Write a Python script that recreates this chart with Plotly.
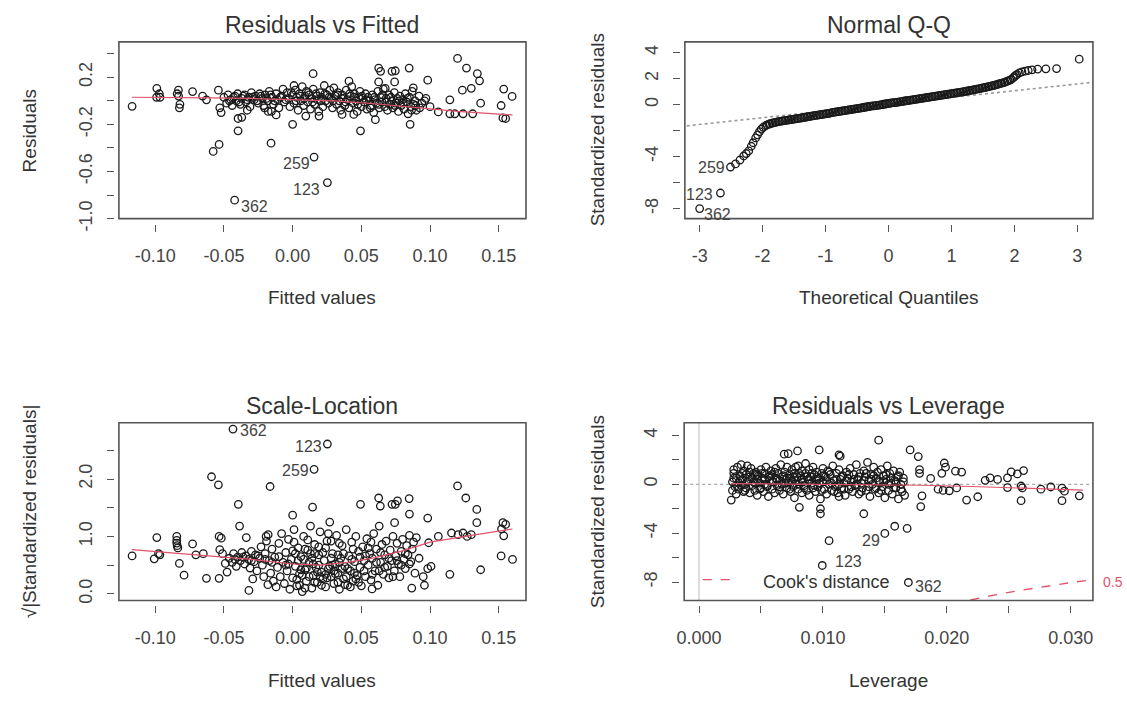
import plotly.graph_objects as go

W, H = 1127, 707
FONT = "Liberation Sans, Arial, sans-serif"
PT = '#1a1a1a'
RED = '#DF536B'

# ---------------- Residuals vs Fitted (fitted, residual) ----------------
rf_points = [
    (-0.1168, -0.047), (-0.0988, 0.106), (-0.099, 0.03), (-0.0965, 0.03), (-0.097, 0.06),
    (-0.0831, 0.09), (-0.083, 0.04), (-0.082, -0.03), (-0.0824, -0.06), (-0.084, 0.06),
    (-0.0728, 0.078), (-0.0655, 0.04), (-0.0627, 0.008), (-0.054, 0.09), (-0.053, -0.06),
    (-0.052, -0.10), (-0.0578, -0.43), (-0.0535, -0.37), (-0.0422, -0.844), (-0.0397, -0.255),
    (-0.0397, -0.15), (-0.037, -0.14), (-0.033, -0.08), (-0.0205, -0.06), (-0.0178, -0.09),
    (-0.0157, -0.36), (-0.0154, -0.09), (-0.012, -0.12), (0.0, -0.2), (0.001, 0.13),
    (0.0149, 0.23), (0.0156, -0.478), (0.0253, -0.694), (0.0096, -0.13), (0.0192, -0.13),
    (0.0494, -0.255), (0.0626, 0.278), (0.064, 0.25), (0.0723, 0.25), (0.0747, 0.255),
    (0.0848, 0.278), (0.0742, 0.16), (0.0878, 0.11), (0.0983, 0.175), (0.12, 0.36),
    (0.1265, 0.278), (0.1344, 0.23), (0.136, 0.17), (0.13, 0.106), (0.1235, 0.09),
    (0.1144, 0.008), (0.1368, -0.02), (0.1536, 0.1), (0.1597, 0.037), (0.1517, -0.04),
    (0.153, -0.145), (0.155, -0.15), (0.1144, -0.11), (0.118, -0.11), (0.124, -0.11),
    (0.131, -0.11), (0.106, -0.094), (0.0855, -0.2), (0.0602, -0.16), (0.0445, -0.116),
    (0.036, -0.116), (0.041, 0.167), (0.0626, 0.16), (0.0674, 0.106),
    (-0.050, 0.03), (-0.048, -0.02), (-0.047, 0.05), (-0.045, 0.01), (-0.044, -0.04),
    (-0.042, 0.04), (-0.041, 0.00), (-0.040, 0.06), (-0.038, -0.03), (-0.037, 0.02),
    (-0.035, 0.05), (-0.034, -0.01), (-0.032, 0.03), (-0.031, -0.05), (-0.030, 0.07),
    (-0.028, 0.01), (-0.027, 0.04), (-0.025, -0.02), (-0.024, 0.06), (-0.022, 0.02),
    (-0.021, -0.04), (-0.020, 0.05), (-0.018, 0.00), (-0.017, 0.08), (-0.015, 0.03),
    (-0.014, -0.03), (-0.012, 0.06), (-0.011, 0.01), (-0.010, -0.06), (-0.008, 0.04),
    (-0.007, 0.10), (-0.006, -0.01), (-0.004, 0.07), (-0.003, 0.02), (-0.002, -0.05),
    (0.000, 0.05), (0.001, -0.02), (0.002, 0.09), (0.003, 0.03), (0.004, -0.08),
    (0.005, 0.06), (0.006, 0.00), (0.007, 0.12), (0.008, -0.04), (0.009, 0.04),
    (0.010, 0.08), (0.011, -0.01), (0.012, 0.05), (0.013, -0.07), (0.014, 0.02),
    (0.015, 0.10), (0.016, -0.03), (0.017, 0.06), (0.018, 0.01), (0.019, -0.09),
    (0.020, 0.07), (0.021, 0.03), (0.022, -0.05), (0.023, 0.13), (0.024, 0.00),
    (0.025, 0.05), (0.026, -0.02), (0.027, 0.09), (0.028, 0.02), (0.029, -0.06),
    (0.030, 0.11), (0.031, 0.04), (0.032, -0.03), (0.033, 0.07), (0.034, 0.00),
    (0.035, -0.08), (0.036, 0.05), (0.037, 0.02), (0.038, -0.04), (0.039, 0.09),
    (0.040, 0.01), (0.041, -0.06), (0.042, 0.04), (0.043, 0.12), (0.044, -0.02),
    (0.045, 0.06), (0.046, 0.00), (0.047, -0.09), (0.048, 0.03), (0.049, 0.08),
    (0.050, -0.05), (0.051, 0.02), (0.052, -0.01), (0.053, 0.06), (0.054, -0.07),
    (0.055, 0.03), (0.056, 0.00), (0.057, -0.04), (0.058, 0.05), (0.059, -0.10),
    (0.060, 0.01), (0.061, -0.02), (0.062, 0.08), (0.063, -0.06), (0.064, 0.03),
    (0.065, -0.01), (0.066, 0.10), (0.067, -0.05), (0.068, 0.02), (0.069, -0.08),
    (0.070, 0.05), (0.071, -0.03), (0.072, 0.00), (0.073, -0.06), (0.074, 0.07),
    (0.075, -0.02), (0.076, 0.02), (0.077, -0.09), (0.078, 0.04), (0.079, -0.04),
    (0.080, 0.01), (0.081, -0.07), (0.082, 0.06), (0.083, -0.01), (0.084, -0.11),
    (0.085, 0.03), (0.086, -0.05), (0.087, 0.08), (0.088, -0.03), (0.089, 0.00),
    (0.090, -0.08), (0.092, 0.04), (0.094, -0.02), (0.097, 0.02), (0.100, -0.05),
    (-0.046, 0.00), (-0.043, 0.03), (-0.039, -0.01), (-0.036, 0.04), (-0.033, 0.01),
    (-0.029, 0.03), (-0.026, 0.00), (-0.023, 0.04), (-0.019, 0.02), (-0.016, 0.05),
    (-0.013, 0.00), (-0.009, 0.03), (-0.005, 0.01), (-0.001, 0.07), (0.0025, 0.00),
    (0.0055, 0.04), (0.0085, 0.02), (0.0115, 0.07), (0.0145, -0.01), (0.0175, 0.04),
    (0.0205, 0.00), (0.0235, 0.06), (0.0265, 0.03), (0.0295, 0.00), (0.0325, 0.05),
    (0.0355, 0.02), (0.0385, -0.01), (0.0415, 0.06), (0.0445, 0.03), (0.0475, -0.03),
    (0.0505, 0.04), (0.0535, 0.01), (0.0565, -0.06), (0.0595, 0.03), (0.0625, -0.03),
    (0.0655, 0.05), (0.0685, -0.01), (0.0715, 0.03), (0.0745, -0.04), (0.0775, 0.00),
    (0.0805, -0.02), (0.0835, 0.02), (0.0865, -0.08), (0.0895, -0.04), (0.0925, -0.06),
    (0.096, 0.00),
]
rf_smooth_x = [-0.117, -0.09, -0.06, -0.03, 0.0, 0.03, 0.06, 0.09, 0.12, 0.16]
rf_smooth_y = [0.03, 0.03, 0.025, 0.02, 0.012, 0.0, -0.025, -0.06, -0.09, -0.12]
rf_labels = [("362", -0.0276, -0.894), ("259", 0.0027, -0.536), ("123", 0.0102, -0.755)]

# ---------------- Normal Q-Q (theoretical, standardized) ----------------
qq_points = [
    (-3.0, -8.0), (-2.67, -6.8), (-2.51, -4.8), (-2.43, -4.56), (-2.36, -4.26),
    (-2.30, -3.95), (-2.26, -3.76), (-2.22, -3.56), (-2.18, -3.20), (-2.15, -2.93),
    (-2.11, -2.56), (-2.08, -2.32), (-2.05, -2.08), (-2.02, -1.88), (-1.99, -1.74),
    (-1.95, -1.62), (-1.90, -1.50), (-1.85, -1.42), (-1.80, -1.36), (-1.75, -1.31),
    (-1.70, -1.27), (-1.65, -1.23), (-1.60, -1.19), (-1.55, -1.15), (-1.50, -1.11),
    (-1.45, -1.07), (-1.40, -1.03), (-1.35, -0.99), (-1.30, -0.95), (-1.25, -0.91),
    (-1.20, -0.87), (-1.15, -0.83), (-1.10, -0.79), (-1.05, -0.75), (-1.00, -0.71),
    (-0.95, -0.67), (-0.90, -0.62), (-0.85, -0.58), (-0.80, -0.54), (-0.75, -0.50),
    (-0.70, -0.46), (-0.65, -0.42), (-0.60, -0.38), (-0.55, -0.34), (-0.50, -0.30),
    (-0.45, -0.26), (-0.40, -0.22), (-0.35, -0.18), (-0.30, -0.14), (-0.25, -0.10),
    (-0.20, -0.07), (-0.15, -0.03), (-0.10, 0.01), (-0.05, 0.05), (0.00, 0.09),
    (0.05, 0.13), (0.10, 0.16), (0.15, 0.20), (0.20, 0.24), (0.25, 0.28),
    (0.30, 0.31), (0.35, 0.35), (0.40, 0.39), (0.45, 0.43), (0.50, 0.47),
    (0.55, 0.50), (0.60, 0.54), (0.65, 0.58), (0.70, 0.62), (0.75, 0.65),
    (0.80, 0.69), (0.85, 0.73), (0.90, 0.77), (0.95, 0.81), (1.00, 0.85),
    (1.05, 0.89), (1.10, 0.93), (1.15, 0.97), (1.20, 1.01), (1.25, 1.05),
    (1.30, 1.10), (1.35, 1.14), (1.40, 1.19), (1.45, 1.24), (1.50, 1.29),
    (1.55, 1.34), (1.60, 1.40), (1.65, 1.46), (1.70, 1.52), (1.75, 1.59),
    (1.80, 1.66), (1.85, 1.74), (1.90, 1.83), (1.95, 1.95), (2.00, 2.15),
    (2.04, 2.32), (2.08, 2.44), (2.12, 2.52), (2.17, 2.58), (2.22, 2.63),
    (2.28, 2.68), (2.37, 2.74), (2.50, 2.76), (2.67, 2.78), (3.03, 3.50),
    (-1.93, -1.56), (-1.88, -1.47), (-1.83, -1.40), (-1.78, -1.34), (-1.73, -1.29),
    (-1.68, -1.25), (-1.63, -1.21), (-1.58, -1.17), (-1.53, -1.13), (-1.48, -1.09),
    (-1.43, -1.05), (-1.38, -1.01), (-1.33, -0.97), (-1.28, -0.93), (-1.23, -0.89),
    (-1.18, -0.85), (-1.13, -0.81), (-1.08, -0.77), (-1.03, -0.73), (-0.98, -0.69),
    (-0.93, -0.65), (-0.88, -0.60), (-0.83, -0.56), (-0.78, -0.52), (-0.73, -0.48),
    (-0.68, -0.44), (-0.63, -0.40), (-0.58, -0.36), (-0.53, -0.32), (-0.48, -0.28),
    (-0.43, -0.24), (-0.38, -0.20), (-0.33, -0.16), (-0.28, -0.12), (-0.23, -0.09),
    (-0.18, -0.05), (-0.13, -0.01), (-0.08, 0.03), (-0.03, 0.07), (0.03, 0.11),
    (0.08, 0.15), (0.13, 0.18), (0.18, 0.22), (0.23, 0.26), (0.28, 0.30),
    (0.33, 0.33), (0.38, 0.37), (0.43, 0.41), (0.48, 0.45), (0.53, 0.49),
    (0.58, 0.52), (0.63, 0.56), (0.68, 0.60), (0.73, 0.64), (0.78, 0.67),
    (0.83, 0.71), (0.88, 0.75), (0.93, 0.79), (0.98, 0.83), (1.03, 0.87),
    (1.08, 0.91), (1.13, 0.95), (1.18, 0.99), (1.23, 1.03), (1.28, 1.08),
    (1.33, 1.12), (1.38, 1.17), (1.43, 1.22), (1.48, 1.27), (1.53, 1.32),
    (1.58, 1.37), (1.63, 1.43), (1.68, 1.49), (1.73, 1.56), (1.78, 1.63),
    (1.83, 1.70), (1.88, 1.79), (1.93, 1.89), (1.98, 2.06), (2.02, 2.25),
]
qq_line_x = [-3.3, 3.3]
qq_line_y = [-1.68, 1.75]
qq_labels = [("259", -2.81, -4.8), ("123", -3.0, -6.94), ("362", -2.71, -8.44)]

# ---------------- Scale-Location (fitted, sqrt|std resid|) ----------------
sl_points = [
    (-0.0434, 2.87), (0.0253, 2.61), (0.0156, 2.17), (-0.059, 2.04), (-0.054, 1.90),
    (-0.0164, 1.87), (-0.0395, 1.56), (-0.0386, 1.18), (-0.0337, 0.98), (0.0, 1.37),
    (-0.1168, 0.66), (-0.1007, 0.61), (-0.0988, 0.98), (-0.0976, 0.70), (-0.0966, 0.68),
    (-0.0843, 1.0), (-0.0843, 0.93), (-0.0843, 0.885), (-0.0840, 0.84), (-0.0835, 0.80),
    (-0.0824, 0.53), (-0.079, 0.325), (-0.0728, 0.87), (-0.0704, 0.68), (-0.065, 0.70),
    (-0.0627, 0.27), (-0.0535, 0.27), (-0.0535, 1.0), (-0.0519, 0.97), (-0.053, 0.77),
    (-0.051, 0.70), (-0.0477, 0.38), (-0.049, 0.53), (-0.0318, 0.06), (-0.029, 0.26),
    (-0.0193, 1.0), (-0.0178, 1.03), (0.0145, 1.51), (0.0494, 1.56), (0.0626, 1.67),
    (0.0638, 1.53), (0.0723, 1.56), (0.0747, 1.56), (0.0763, 1.62), (0.0848, 1.66),
    (0.085, 1.39), (0.0742, 1.24), (0.0983, 1.32), (0.12, 1.88), (0.126, 1.67),
    (0.134, 1.47), (0.134, 1.24), (0.153, 1.24), (0.155, 1.21), (0.152, 1.13),
    (0.1536, 1.01), (0.1517, 0.66), (0.160, 0.60), (0.1368, 0.42), (0.1144, 0.34),
    (0.0983, 0.44), (0.1007, 0.48), (0.0959, 0.15), (0.0867, 0.10), (0.106, 1.0),
    (0.099, 0.89), (0.1156, 1.06), (0.1204, 1.03), (0.124, 1.06), (0.130, 1.03),
    (0.127, 1.0), (0.0578, 0.086),
    (-0.046, 0.62), (-0.044, 0.55), (-0.043, 0.70), (-0.041, 0.48), (-0.040, 0.64),
    (-0.038, 0.58), (-0.037, 0.72), (-0.035, 0.52), (-0.034, 0.66), (-0.032, 0.60),
    (-0.031, 0.45), (-0.030, 0.74), (-0.028, 0.56), (-0.027, 0.68), (-0.026, 0.40),
    (-0.024, 0.62), (-0.023, 0.82), (-0.022, 0.50), (-0.021, 0.30), (-0.020, 0.70),
    (-0.019, 0.92), (-0.018, 0.16), (-0.017, 0.58), (-0.016, 0.36), (-0.015, 0.78),
    (-0.014, 0.22), (-0.013, 0.64), (-0.012, 0.12), (-0.011, 0.46), (-0.010, 0.88),
    (-0.009, 0.30), (-0.008, 1.05), (-0.007, 0.55), (-0.006, 0.18), (-0.005, 0.72),
    (-0.004, 0.40), (-0.003, 0.95), (-0.002, 0.08), (-0.001, 0.60), (0.000, 0.28),
    (0.001, 1.12), (0.002, 0.48), (0.003, 0.14), (0.004, 0.80), (0.005, 0.35),
    (0.006, 0.65), (0.007, 0.04), (0.008, 1.00), (0.009, 0.42), (0.010, 0.22),
    (0.011, 0.76), (0.012, 0.55), (0.013, 1.18), (0.014, 0.10), (0.015, 0.32),
    (0.016, 0.86), (0.017, 0.46), (0.018, 0.20), (0.019, 0.68), (0.020, 1.08),
    (0.021, 0.38), (0.022, 0.26), (0.023, 0.58), (0.024, 0.12), (0.025, 0.92),
    (0.026, 0.44), (0.027, 1.25), (0.028, 0.30), (0.029, 0.70), (0.030, 0.18),
    (0.031, 0.52), (0.032, 1.02), (0.033, 0.36), (0.034, 0.08), (0.035, 0.62),
    (0.036, 0.84), (0.037, 0.26), (0.038, 0.48), (0.039, 1.12), (0.040, 0.15),
    (0.041, 0.66), (0.042, 0.40), (0.043, 0.90), (0.044, 0.22), (0.045, 0.56),
    (0.046, 1.00), (0.047, 0.32), (0.048, 0.74), (0.049, 0.46), (0.050, 0.14),
    (0.051, 0.82), (0.052, 0.58), (0.053, 0.30), (0.054, 0.96), (0.055, 0.50),
    (0.056, 0.70), (0.057, 0.24), (0.058, 0.62), (0.059, 1.05), (0.060, 0.40),
    (0.061, 0.78), (0.062, 0.15), (0.063, 1.18), (0.064, 0.55), (0.065, 0.86),
    (0.066, 0.34), (0.067, 0.68), (0.068, 0.92), (0.069, 0.48), (0.070, 0.28),
    (0.071, 0.76), (0.072, 0.58), (0.073, 1.00), (0.074, 0.40), (0.075, 0.66),
    (0.076, 0.88), (0.077, 0.52), (0.078, 0.30), (0.079, 0.74), (0.080, 0.95),
    (0.081, 0.60), (0.082, 0.44), (0.083, 0.84), (0.084, 0.68), (0.085, 1.02),
    (0.086, 0.56), (0.087, 0.78), (0.088, 0.90), (0.089, 0.36), (0.090, 0.98),
    (0.092, 0.62), (0.095, 0.30),
    (0.003, 0.25), (0.006, 0.42), (0.009, 0.10), (0.012, 0.30), (0.015, 0.52),
    (0.018, 0.38), (0.021, 0.15), (0.024, 0.34), (0.027, 0.48), (0.030, 0.40),
    (0.033, 0.20), (0.036, 0.44), (0.039, 0.30), (0.042, 0.12), (0.045, 0.36),
    (0.002, 0.70), (0.011, 0.94), (0.019, 0.82), (0.026, 1.05), (0.034, 0.88),
    (-0.005, 0.50), (-0.010, 0.65), (0.008, 0.60), (0.016, 0.70), (0.028, 0.62),
    (-0.003, 0.52), (0.000, 0.75), (0.004, 0.58), (0.007, 0.32), (0.010, 0.45),
    (0.013, 0.70), (0.016, 0.20), (0.019, 0.50), (0.022, 0.72), (0.025, 0.28),
    (0.028, 0.92), (0.031, 0.35), (0.034, 0.55), (0.037, 0.70), (0.040, 0.44),
    (0.043, 0.60), (0.046, 0.26), (0.049, 0.64), (0.052, 0.40), (0.055, 0.80),
    (0.058, 0.34), (0.061, 0.55), (0.064, 0.72), (0.067, 0.46), (0.070, 0.62),
    (0.073, 0.30), (0.076, 0.58), (0.079, 0.50), (0.082, 0.70), (0.085, 0.52),
    (-0.020, 0.60), (-0.015, 0.55), (-0.025, 0.66), (-0.030, 0.58), (-0.036, 0.64),
    (-0.042, 0.60), (0.001, 0.90), (0.005, 0.15), (0.009, 0.78), (0.014, 0.62),
    (0.020, 0.30), (0.024, 0.80), (0.029, 0.50), (0.033, 0.68), (0.038, 0.16),
    (0.044, 0.78), (0.048, 0.20), (0.053, 0.66), (0.057, 0.90), (0.063, 0.40),
]
sl_smooth_x = [-0.117, -0.09, -0.06, -0.03, 0.0, 0.02, 0.04, 0.06, 0.08, 0.10, 0.13, 0.16]
sl_smooth_y = [0.77, 0.72, 0.66, 0.60, 0.52, 0.50, 0.55, 0.63, 0.75, 0.90, 1.02, 1.13]
sl_labels = [("362", -0.0283, 2.84), ("123", 0.0114, 2.57), ("259", 0.0024, 2.15)]

# ---------------- Residuals vs Leverage (leverage, std resid) ----------------
lv_points = [
    (0.0026, -1.29), (0.00688, 2.46), (0.0072, 2.5), (0.00795, 2.73), (0.0078, 1.4),
    (0.0097, 2.81), (0.0113, 2.41), (0.0114, 2.3), (0.0081, -1.88), (0.0098, -2.41),
    (0.0098, -2.0), (0.0105, -4.61), (0.00995, -6.64), (0.0113, -1.0), (0.0145, 3.61),
    (0.01704, 2.81), (0.0177, 2.27), (0.0133, -2.41), (0.015, -4.02), (0.0158, -3.43),
    (0.0168, -3.61), (0.0169, -8.03), (0.0178, 1.2), (0.0178, 0.9), (0.0187, 0.48),
    (0.018, -0.94), (0.0179, -1.82), (0.0198, 1.74), (0.0199, 1.4), (0.0207, 1.07),
    (0.0212, 1.0), (0.0196, 0.9), (0.0193, -0.4), (0.0197, -0.5), (0.0202, -0.53),
    (0.0208, -0.3), (0.0216, -1.29), (0.0225, -1.02), (0.0231, 0.32), (0.0235, 0.53),
    (0.0241, 0.4), (0.0249, 0.53), (0.0252, 1.01), (0.0257, 0.85), (0.0262, 1.12),
    (0.0249, -0.27), (0.0260, -0.14), (0.0261, -0.3), (0.0260, -1.34), (0.0276, -0.4),
    (0.0284, -0.22), (0.0293, -0.32), (0.0295, -0.56), (0.0293, -1.34), (0.0307, -0.94),
    (0.0027, 0.2), (0.0027, -0.5), (0.0028, 0.9), (0.0028, 1.2), (0.0029, -0.2),
    (0.0030, 0.5), (0.0030, -0.8), (0.0031, 1.4), (0.0032, 0.1), (0.0032, -0.4),
    (0.0033, 0.7), (0.0034, 1.6), (0.0034, -0.1), (0.0035, 0.4), (0.0036, -0.6),
    (0.0036, 1.1), (0.0037, 0.0), (0.0038, 0.8), (0.0038, -0.3), (0.0039, 1.5),
    (0.0040, 0.3), (0.0041, -0.7), (0.0041, 0.6), (0.0042, 1.3), (0.0043, -0.1),
    (0.0044, 0.9), (0.0044, 0.2), (0.0045, -0.5), (0.0046, 1.0), (0.0047, 0.4),
    (0.0047, -0.9), (0.0048, 0.7), (0.0049, 0.1), (0.0050, 1.2), (0.0050, -0.3),
    (0.0051, 0.5), (0.0052, -0.6), (0.0053, 0.9), (0.0053, 0.0), (0.0054, 1.4),
    (0.0055, -0.2), (0.0056, 0.6), (0.0056, -1.0), (0.0057, 0.3), (0.0058, 1.1),
    (0.0059, -0.4), (0.0059, 0.8), (0.0060, 0.2), (0.0061, -0.7), (0.0062, 1.3),
    (0.0062, 0.5), (0.0063, -0.1), (0.0064, 0.9), (0.0065, -0.5), (0.0065, 0.3),
    (0.0066, 1.6), (0.0067, 0.0), (0.0068, 0.7), (0.0068, -0.8), (0.0069, 1.0),
    (0.0070, 0.4), (0.0071, -0.3), (0.0071, 1.4), (0.0072, 0.1), (0.0073, 0.8),
    (0.0074, -0.6), (0.0074, 0.5), (0.0075, 1.2), (0.0076, -0.2), (0.0077, 0.9),
    (0.0077, -1.1), (0.0078, 0.3), (0.0079, 0.6), (0.0080, -0.4), (0.0080, 1.5),
    (0.0081, 0.0), (0.0082, 0.7), (0.0083, -0.7), (0.0083, 1.1), (0.0084, 0.2),
    (0.0085, -0.1), (0.0086, 0.9), (0.0086, 1.7), (0.0087, -0.5), (0.0088, 0.4),
    (0.0089, 1.2), (0.0089, -0.9), (0.0090, 0.6), (0.0091, 0.1), (0.0092, 1.4),
    (0.0092, -0.3), (0.0093, 0.8), (0.0094, -0.6), (0.0095, 0.3), (0.0095, 1.0),
    (0.0096, -0.2), (0.0097, 0.5), (0.0098, -1.2), (0.0099, 0.9), (0.0100, 0.2),
    (0.0100, 1.3), (0.0101, -0.4), (0.0102, 0.6), (0.0103, -0.8), (0.0104, 1.1),
    (0.0105, 0.0), (0.0106, 0.8), (0.0107, -0.5), (0.0108, 1.5), (0.0109, 0.3),
    (0.0110, -0.2), (0.0111, 0.9), (0.0112, -0.7), (0.0113, 1.2), (0.0114, 0.4),
    (0.0115, -0.3), (0.0116, 0.7), (0.0117, 0.1), (0.0118, -0.9), (0.0119, 1.0),
    (0.0120, 0.5), (0.0121, -0.4), (0.0122, 1.3), (0.0123, 0.2), (0.0124, -0.6),
    (0.0125, 0.8), (0.0126, -0.1), (0.0127, 1.6), (0.0128, 0.4), (0.0129, -0.8),
    (0.0130, 0.9), (0.0131, 0.1), (0.0132, -0.3), (0.0133, 1.1), (0.0134, 0.6),
    (0.0135, -0.5), (0.0136, 1.8), (0.0137, 0.3), (0.0138, -1.0), (0.0139, 0.8),
    (0.0140, 0.0), (0.0141, 1.4), (0.0142, -0.4), (0.0143, 0.5), (0.0144, 1.0),
    (0.0145, -0.7), (0.0146, 0.2), (0.0147, 1.2), (0.0148, -0.2), (0.0149, 0.7),
    (0.0150, -1.1), (0.0151, 0.4), (0.0152, 1.5), (0.0153, -0.5), (0.0154, 0.9),
    (0.0155, 0.1), (0.0156, -0.8), (0.0157, 1.1), (0.0158, 0.3), (0.0159, -0.3),
    (0.0160, 0.6), (0.0161, -1.2), (0.0162, 1.0), (0.0163, 0.0), (0.0164, -0.6),
    (0.0165, 0.5), (0.0166, -0.9),
    (0.0028, 0.5), (0.0031, -0.2), (0.0033, 0.3), (0.0035, 0.9), (0.0037, -0.5),
    (0.0039, 0.2), (0.0041, 1.0), (0.0043, 0.5), (0.0045, 0.1), (0.0047, 0.8),
    (0.0049, -0.4), (0.0051, 0.9), (0.0053, 0.4), (0.0055, -0.1), (0.0057, 0.7),
    (0.0059, 0.2), (0.0061, 1.0), (0.0063, 0.4), (0.0065, -0.2), (0.0067, 0.6),
    (0.0069, 0.1), (0.0071, 0.5), (0.0073, -0.4), (0.0075, 0.3), (0.0077, 0.6),
    (0.0079, 0.0), (0.0081, 0.9), (0.0083, 0.4), (0.0085, -0.3), (0.0087, 0.6),
    (0.0089, 0.3), (0.0091, 0.9), (0.0093, -0.1), (0.0095, 0.6), (0.0097, 0.1),
    (0.0099, -0.5), (0.0101, 0.7), (0.0103, 0.3), (0.0105, 1.0), (0.0107, 0.1),
    (0.0109, -0.6), (0.0111, 0.4), (0.0113, 0.0), (0.0115, 0.6), (0.0117, -0.4),
    (0.0119, 0.3), (0.0121, 0.8), (0.0123, -0.2), (0.0125, 0.4), (0.0127, 0.0),
    (0.0129, 0.6), (0.0131, -0.6), (0.0133, 0.3), (0.0135, 0.9), (0.0137, -0.2),
    (0.0139, 0.4), (0.0141, 0.7), (0.0143, -0.3), (0.0145, 0.3), (0.0147, -0.5),
    (0.0149, 0.2), (0.0151, 0.8), (0.0153, 0.0), (0.0155, 0.5), (0.0157, -0.3),
    (0.0159, 0.2), (0.0161, 0.7), (0.0163, -0.4), (0.0165, 0.2),
]
lv_smooth_x = [0.0026, 0.006, 0.010, 0.014, 0.018, 0.022, 0.026, 0.031]
lv_smooth_y = [0.05, 0.02, 0.0, -0.02, -0.08, -0.18, -0.30, -0.48]
cook_x = [0.0205, 0.022, 0.024, 0.026, 0.028, 0.030, 0.0318]
cook_y = [-9.77, -9.43, -9.02, -8.67, -8.33, -8.04, -7.80]
lv_labels = [("123", 0.0121, -6.3), ("29", 0.0139, -4.61), ("362", 0.0185, -8.35)]

# ---------------- layout geometry (pixels) ----------------
BOX = {
    1: (111.7, 521.7, 42.7, 222.7),
    2: (681.7, 1092.7, 42.7, 222.7),
    3: (111.7, 521.7, 430.7, 611.7),
    4: (681.0, 1092.7, 430.7, 611.7),
}
GAP = 5
TICKFONT = dict(family=FONT, size=18, color='#444444')


def xaxis_cfg(box, rng, vals, texts):
    l, r, t, b = box
    return dict(domain=[l / W, r / W], range=rng, anchor='free', position=1 - (b + GAP) / H,
                showgrid=False, zeroline=False, showline=False, ticks='outside', ticklen=7,
                tickwidth=1.3, tickcolor='#555555', tickvals=vals, ticktext=texts,
                tickfont=TICKFONT, ticklabelstandoff=9)


def yaxis_cfg(box, rng, vals, texts):
    l, r, t, b = box
    return dict(domain=[1 - b / H, 1 - t / H], range=rng, anchor='free', position=(l - GAP) / W,
                showgrid=False, zeroline=False, showline=False, ticks='outside', ticklen=7,
                tickwidth=1.3, tickcolor='#555555', tickvals=vals, ticktext=texts,
                tickfont=TICKFONT, tickangle=-90, ticklabelstandoff=8)


fig = go.Figure()
MARK = dict(symbol='circle-open', size=7.5, color=PT, line=dict(width=1.3, color=PT))


def add_scatter(points, ax):
    fig.add_trace(go.Scatter(x=[p[0] for p in points], y=[p[1] for p in points], mode='markers',
                             marker=MARK, xaxis='x' + ax, yaxis='y' + ax, showlegend=False,
                             hoverinfo='skip'))


def add_line(xs, ys, ax, color, dash='solid', width=1.2):
    fig.add_trace(go.Scatter(x=xs, y=ys, mode='lines', line=dict(color=color, dash=dash, width=width),
                             xaxis='x' + ax, yaxis='y' + ax, showlegend=False, hoverinfo='skip'))


# panel 1
add_scatter(rf_points, '')
add_line(rf_smooth_x, rf_smooth_y, '', RED, width=1.2)
# panel 2
add_line(qq_line_x, qq_line_y, '2', '#999999', dash='dot', width=1.6)
add_scatter(qq_points, '2')
# panel 3
add_scatter(sl_points, '3')
add_line(sl_smooth_x, sl_smooth_y, '3', RED, width=1.2)
# panel 4
add_scatter(lv_points, '4')
add_line(lv_smooth_x, lv_smooth_y, '4', RED, width=1.2)
add_line(cook_x, cook_y, '4', RED, dash='dash', width=1.4)

xt1 = [-0.10, -0.05, 0.00, 0.05, 0.10, 0.15]
xt1_text = ['-0.10', '-0.05', '0.00', '0.05', '0.10', '0.15']
fig.update_layout(
    width=W, height=H, margin=dict(l=0, r=0, t=0, b=0),
    paper_bgcolor='white', plot_bgcolor='white', font=dict(family=FONT, color='#333333'),
    xaxis=xaxis_cfg(BOX[1], [-0.1264, 0.1698], xt1, xt1_text),
    yaxis=yaxis_cfg(BOX[1], [-1.0, 0.5], [-1.0, -0.8, -0.6, -0.4, -0.2, 0.0, 0.2, 0.4],
                    ['-1.0', '', '-0.6', '', '-0.2', '', '0.2', '']),
    xaxis2=xaxis_cfg(BOX[2], [-3.235, 3.248], [-3, -2, -1, 0, 1, 2, 3],
                     ['-3', '-2', '-1', '0', '1', '2', '3']),
    yaxis2=yaxis_cfg(BOX[2], [-8.77, 4.83], [-8, -6, -4, -2, 0, 2, 4],
                     ['-8', '', '-4', '', '0', '2', '4']),
    xaxis3=xaxis_cfg(BOX[3], [-0.1264, 0.1698], xt1, xt1_text),
    yaxis3=yaxis_cfg(BOX[3], [-0.115, 2.98], [0.0, 0.5, 1.0, 1.5, 2.0, 2.5],
                     ['0.0', '', '1.0', '', '2.0', '']),
    xaxis4=xaxis_cfg(BOX[4], [-0.0012, 0.0318], [0.0, 0.005, 0.010, 0.015, 0.020, 0.025, 0.030],
                     ['0.000', '', '0.010', '', '0.020', '', '0.030']),
    yaxis4=yaxis_cfg(BOX[4], [-9.5, 5.03], [-8, -6, -4, -2, 0, 2, 4],
                     ['-8', '', '-4', '', '0', '', '4']),
)

# boxes and reference lines
shapes = []
for ax in ['', '2', '3', '4']:
    shapes.append(dict(type='rect', xref='x%s domain' % ax, yref='y%s domain' % ax,
                       x0=0, x1=1, y0=0, y1=1, line=dict(color='#555555', width=1.6), layer='above'))
shapes.append(dict(type='line', xref='x4 domain', yref='y4', x0=0, x1=1, y0=0, y1=0,
                   line=dict(color='#aaaaaa', width=1.2, dash='dot'), layer='below'))
shapes.append(dict(type='line', xref='x4', yref='y4 domain', x0=0, x1=0, y0=0, y1=1,
                   line=dict(color='#bbbbbb', width=1.0), layer='below'))
# Cook's distance legend line
shapes.append(dict(type='line', xref='x4', yref='y4', x0=0.0003, x1=0.0031, y0=-7.8, y1=-7.8,
                   line=dict(color=RED, width=1.4, dash='dash')))
fig.update_layout(shapes=shapes)

ann = []


def paper_text(text, px, py, size, angle=0, color='#333333'):
    ann.append(dict(text=text, x=px / W, y=1 - py / H, xref='paper', yref='paper', showarrow=False,
                    xanchor='center', yanchor='middle', textangle=angle,
                    font=dict(family=FONT, size=size, color=color)))


paper_text('Residuals vs Fitted', 316.7, 25, 23)
paper_text('Normal Q-Q', 887, 25, 23)
paper_text('Scale-Location', 316.7, 414, 23)
paper_text('Residuals vs Leverage', 887, 414, 23)
paper_text('Fitted values', 316.7, 303, 19)
paper_text('Theoretical Quantiles', 887, 303, 19)
paper_text('Fitted values', 316.7, 693, 19)
paper_text('Leverage', 887, 693, 19)
paper_text('Residuals', 22, 133, 19, angle=-90)
paper_text('Standardized residuals', 594, 132, 19, angle=-90)
paper_text('√|Standardized residuals|', 22, 521, 19, angle=-90)
paper_text('Standardized residuals', 594, 521, 19, angle=-90)
# Cook's distance contour level label, just outside the right edge of the box
paper_text('0.5', 1113, 592.5, 14, color=RED)


def data_text(text, x, y, ax, size=16, color='#444444', xanchor='center'):
    ann.append(dict(text=text, x=x, y=y, xref='x' + ax, yref='y' + ax, showarrow=False,
                    xanchor=xanchor, yanchor='middle', font=dict(family=FONT, size=size, color=color)))


for t, x, y in rf_labels:
    data_text(t, x, y, '')
for t, x, y in qq_labels:
    data_text(t, x, y, '2')
for t, x, y in sl_labels:
    data_text(t, x, y, '3')
for t, x, y in lv_labels:
    data_text(t, x, y, '4')
data_text("Cook's distance", 0.00498, -7.95, '4', size=18, color='#333333', xanchor='left')

fig.update_layout(annotations=ann)
fig.write_html('out.html')
